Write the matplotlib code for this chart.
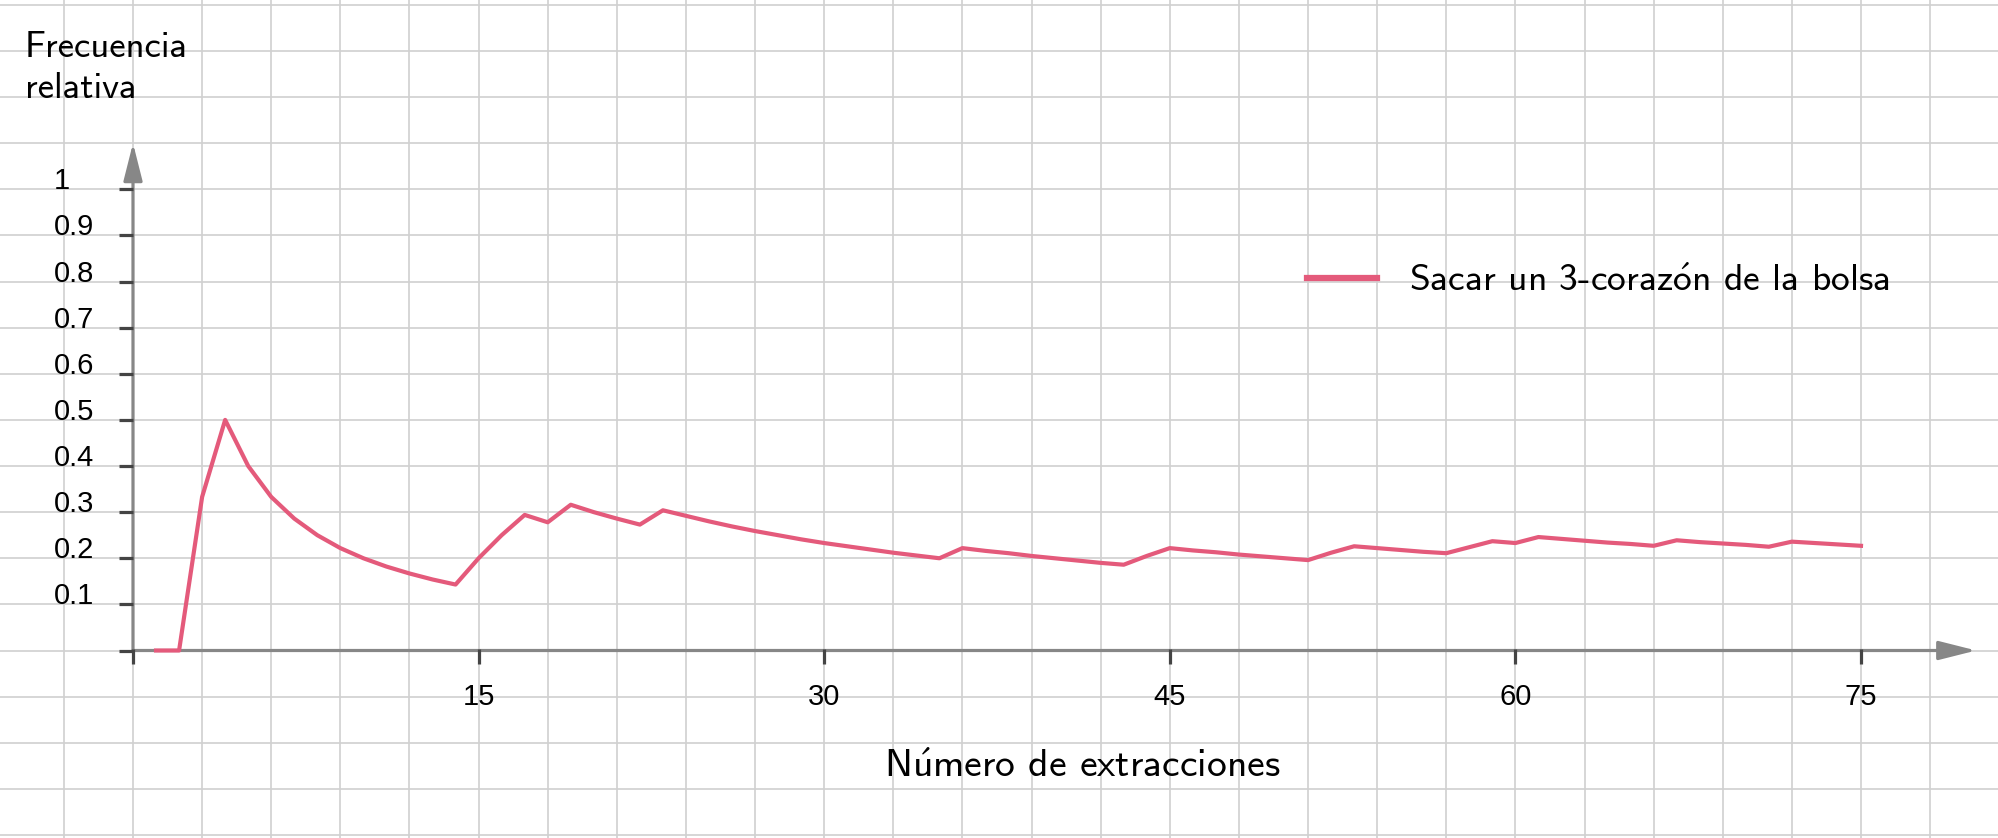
import numpy as np
import matplotlib
matplotlib.use("Agg")
import matplotlib.pyplot as plt

plt.rcParams['mathtext.fontset'] = 'cm'

# relative frequency after each draw
extracciones = list(range(1, 76))
frecuencia = [
    0, 0, 0.333, 0.5, 0.4, 0.333, 0.286, 0.25, 0.222, 0.2,
    0.182, 0.167, 0.154, 0.143, 0.2, 0.25, 0.294, 0.278, 0.316, 0.3,
    0.286, 0.273, 0.304, 0.292, 0.28, 0.269, 0.259, 0.25, 0.241, 0.233,
    0.226, 0.219, 0.212, 0.206, 0.2, 0.222, 0.216, 0.211, 0.205, 0.2,
    0.195, 0.19, 0.186, 0.205, 0.222, 0.217, 0.213, 0.208, 0.204, 0.2,
    0.196, 0.212, 0.226, 0.222, 0.218, 0.214, 0.211, 0.224, 0.237, 0.233,
    0.246, 0.242, 0.238, 0.234, 0.231, 0.227, 0.239, 0.235, 0.232, 0.229,
    0.225, 0.236, 0.233, 0.23, 0.227,
]

x_ticks = [0, 15, 30, 45, 60, 75]
x_labels = ['', '15', '30', '45', '60', '75']
y_ticks = [0, 0.1, 0.2, 0.3, 0.4, 0.5, 0.6, 0.7, 0.8, 0.9, 1.0]
y_labels = ['', '0.1', '0.2', '0.3', '0.4', '0.5', '0.6', '0.7', '0.8', '0.9', '1']

# cmss10 has no accented letters, so the accent comes from mathtext
serie = r'Sacar un 3-coraz$\acute{\mathsf{o}}$n de la bolsa'
titulo_x = r'N$\acute{\mathsf{u}}$mero de extracciones'

W, H = 1999, 838
fig = plt.figure(figsize=(W / 100, H / 100), dpi=100)
ax = fig.add_axes([0, 0, 1, 1])
ax.set_xlim(-133 / 23.04, (W - 133) / 23.04)
ax.set_ylim(-(H - 650.5) / 461.2, 650.5 / 461.2)
ax.axis('off')

# background grid, 3 units by 0.1
for gx in np.arange(-6, 82, 3):
    ax.axvline(gx, color='#d0d0d0', lw=1.2, zorder=0)
for gy in np.arange(-4, 15) / 10:
    ax.axhline(gy, color='#d0d0d0', lw=1.2, zorder=0)

# axes with arrows
arrow = dict(arrowstyle='-|>,head_length=23,head_width=5.8', color='#878787',
             lw=2.3, shrinkA=0, shrinkB=0, mutation_scale=1)
ax.annotate('', xy=(80.0, 0), xytext=(0, 0), arrowprops=arrow, zorder=2)
ax.annotate('', xy=(0, 1.10), xytext=(0, 0), arrowprops=arrow, zorder=2)

# ticks
ax.hlines(y_ticks, -0.62, 0, color='#444444', lw=2.3, zorder=3)
ax.vlines(x_ticks, -0.029, 0.004, color='#444444', lw=2.3, zorder=3)
for yt, lab in zip(y_ticks, y_labels):
    ax.text(-3.45, yt, lab, ha='left', va='baseline', fontsize=21,
            family='Liberation Sans', color='black')
for xt, lab in zip(x_ticks, x_labels):
    ax.text(xt, -0.071, lab, ha='center', va='top', fontsize=21,
            family='Liberation Sans', color='black')

ax.plot(extracciones, frecuencia, color='#e45a7b', lw=3.0, zorder=4,
        solid_joinstyle='round', label=serie)

leg = ax.legend(loc='center left', bbox_to_anchor=(1307 / W, 1 - 281 / H),
                frameon=False, prop={'family': 'cmss10', 'size': 27},
                handlelength=1.87, handletextpad=0.85, borderpad=0,
                borderaxespad=0)
leg.get_lines()[0].set_linewidth(4.5)

fig.text(25 / W, 1 - 57 / H, 'Frecuencia', family='cmss10', fontsize=26.5,
         ha='left', va='baseline')
fig.text(25 / W, 1 - 98 / H, 'relativa', family='cmss10', fontsize=26.5,
         ha='left', va='baseline')
fig.text(1082 / W, 1 - 777 / H, titulo_x, family='cmss10', fontsize=28.5,
         ha='center', va='baseline')

fig.savefig('out.png', dpi=100)
